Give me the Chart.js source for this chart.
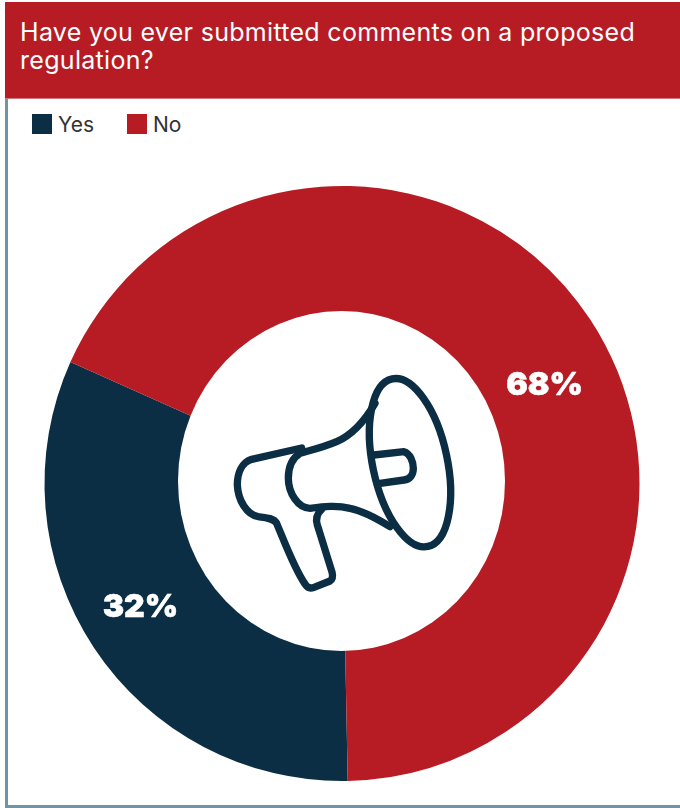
<!DOCTYPE html>
<html>
<head>
<meta charset="utf-8">
<script src="https://cdn.jsdelivr.net/npm/chart.js@4/dist/chart.umd.min.js"></script>
<style>
    html, body { margin: 0; padding: 0; background: #fff; }
    #page { position: relative; width: 680px; height: 808px; overflow: hidden; font-family: Inter, sans-serif; }
    #frame { position: absolute; left: 5px; top: 60px; width: 690px; height: 748px; border-left: 3px solid #6f94a6; border-bottom: 3px solid #6f94a6; box-sizing: border-box; }
    #header { position: absolute; left: 5px; top: 2px; width: 675px; height: 96px; background: #b71c24; border-bottom: 1px solid #d5767b; }
    #title { position: absolute; left: 15px; top: 16px; width: 650px; margin: 0; color: #fff; font-size: 25px; font-weight: 400; line-height: 28px; letter-spacing: 0.3px; }
    #legend { position: absolute; left: 32px; top: 114px; display: flex; gap: 33px; color: #333; font-size: 21px; line-height: 20px; }
    .item { display: flex; align-items: center; gap: 6px; }
    .item span:last-child { position: relative; top: 1px; }
    .swatch { width: 20px; height: 20px; display: block; }
    canvas { position: absolute; left: 0; top: 0; }
</style>
</head>
<body>
<div id="page">
    <div id="frame"></div>
    <div id="header"><h1 id="title"></h1></div>
    <div id="legend"></div>
    <canvas id="pollChart" width="680" height="808"></canvas>
</div>
<script>
const QUESTION = 'Have you ever submitted comments on a proposed regulation?';
const answers = ['Yes', 'No'];
const shares = [32, 68];
const colours = ['#0b2e44', '#b71c24'];

/* Megaphone outline, in units of a third of a pixel, relative to the hole centre */
const ICON_PATHS = [
    // cone
    'M465 130 C430 190 395 225 350 245 C310 262 275 270 240 280 C215 295 205 325 205 355 C205 400 235 445 270 445 C310 440 350 435 390 445 C430 453 470 475 510 500',
    // handle
    'M245 264 L95 298 C65 308 52 340 52 375 C54 420 80 465 115 470 C140 473 162 475 170 490 C195 550 225 630 255 672 C262 684 272 686 282 682 L330 663 C338 658 339 648 336 636 L292 495 C286 475 292 460 305 448',
    // pin
    'M462 285 L552 275 C570 280 580 305 580 325 C580 345 570 358 552 360 L475 371'
];

/* The hole is a little taller than wide, so it is painted over a thicker ring */
const holePlugin = {
    id: 'holePlugin',
    afterDatasetsDraw(chart) {
        const { ctx } = chart;
        const arc = chart.getDatasetMeta(0).data[0];
        ctx.save();
        ctx.fillStyle = '#fff';
        ctx.beginPath();
        ctx.ellipse(arc.x - 0.5, arc.y - 2.5, 163.5, 170, 0, 0, Math.PI * 2);
        ctx.fill();
        ctx.restore();
    }
};

const iconPlugin = {
    id: 'iconPlugin',
    afterDraw(chart) {
        const { ctx } = chart;
        const arc = chart.getDatasetMeta(0).data[0];
        ctx.save();
        ctx.translate(arc.x - 122, arc.y - 123.5);
        ctx.scale(1 / 3, 1 / 3);
        ctx.strokeStyle = colours[0];
        ctx.lineWidth = 22;
        ctx.lineCap = 'round';
        ctx.lineJoin = 'round';
        ICON_PATHS.forEach((d) => ctx.stroke(new Path2D(d)));
        // bell of the horn
        ctx.beginPath();
        ctx.ellipse(570, 308, 112, 257, -12 * Math.PI / 180, 0, Math.PI * 2);
        ctx.stroke();
        ctx.restore();
    }
};

/* Percent labels sit on the ring, nudged off the arc centre */
const percentPlugin = {
    id: 'percentPlugin',
    afterDatasetsDraw(chart, args, opts) {
        const { ctx } = chart;
        ctx.save();
        ctx.fillStyle = '#fff';
        ctx.strokeStyle = '#fff';
        ctx.lineWidth = 0.6;
        ctx.lineJoin = 'round';
        ctx.font = '900 32px Inter, sans-serif';
        ctx.textAlign = 'center';
        ctx.textBaseline = 'middle';
        chart.getDatasetMeta(0).data.forEach((arc, i) => {
            const c = arc.getCenterPoint();
            const label = shares[i] + '%';
            ctx.fillText(label, c.x + opts.nudge[i][0], c.y + opts.nudge[i][1]);
            ctx.strokeText(label, c.x + opts.nudge[i][0], c.y + opts.nudge[i][1]);
        });
        ctx.restore();
    }
};

const pollChart = new Chart(document.getElementById('pollChart'), {
    type: 'doughnut',
    data: {
        labels: answers,
        datasets: [{
            data: shares,
            backgroundColor: colours,
            borderWidth: 0
        }]
    },
    options: {
        responsive: false,
        animation: false,
        cutout: 150,
        rotation: 178.9,
        layout: { padding: { left: 44.5, right: 40.5, top: 186, bottom: 27 } },
        plugins: {
            legend: { display: false },
            tooltip: { enabled: false },
            percentPlugin: { nudge: [[-15, 0], [16, 25]] }
        }
    },
    plugins: [holePlugin, percentPlugin, iconPlugin]
});

/* Header and legend are plain HTML */
document.getElementById('title').textContent = QUESTION;
const legend = document.getElementById('legend');
answers.forEach((answer, i) => {
    const item = document.createElement('div');
    item.className = 'item';
    item.innerHTML = '<span class="swatch" style="background:' + colours[i] + '"></span><span>' + answer + '</span>';
    legend.appendChild(item);
});
</script>
</body>
</html>
